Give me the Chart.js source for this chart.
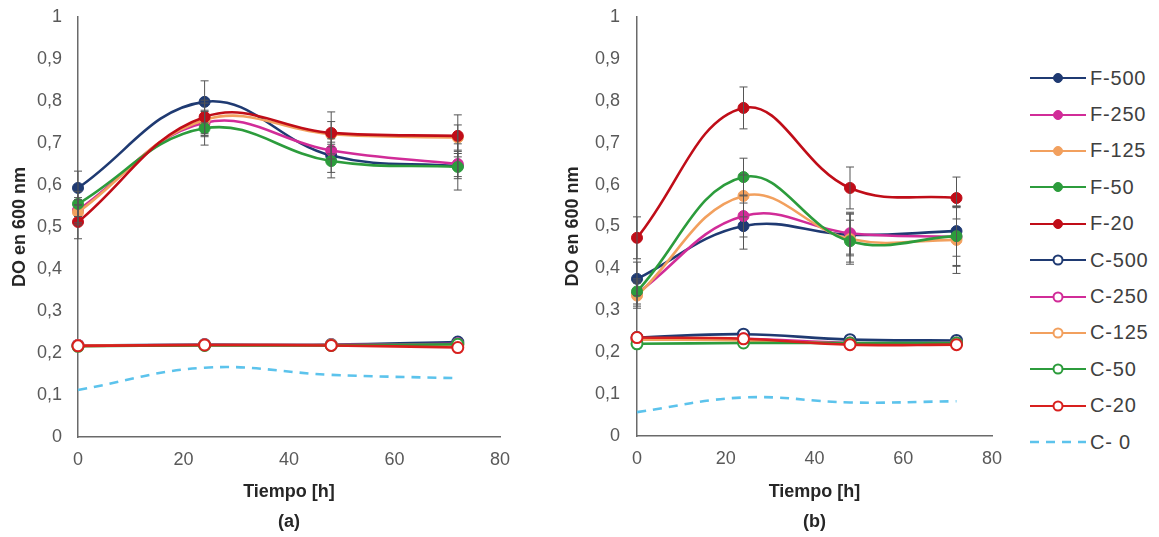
<!DOCTYPE html>
<html>
<head>
<meta charset="utf-8">
<script src="https://cdn.jsdelivr.net/npm/chart.js@4/dist/chart.umd.min.js"></script>
<style>
  html,body{margin:0;padding:0;background:#fff;}
  body{width:1159px;height:537px;position:relative;overflow:hidden;font-family:"Liberation Sans",Arial,sans-serif;}
  .box{position:absolute;top:0;height:537px;}
  #boxA{left:0;width:520px;}
  #boxB{left:540px;width:475px;}
  #legend{position:absolute;left:1030px;top:60px;}
  .lg{height:36.4px;display:flex;align-items:center;}
  .lg svg{width:56px;height:16px;margin-right:4px;}
  .lg span{font-size:20px;color:#404040;letter-spacing:0.8px;}
</style>
</head>
<body>
<div class="box" id="boxA"><canvas id="chartA"></canvas></div>
<div class="box" id="boxB"><canvas id="chartB"></canvas></div>
<div id="legend"></div>
<script>
// tiempos de muestreo (h)
const TIEMPOS = [0, 24, 48, 72];
const SERIES = ['F-500','F-250','F-125','F-50','F-20','C-500','C-250','C-125','C-50','C-20','C- 0'];
const COLORES = ['#1f3a72','#d12c98','#f2a05e','#2c9c3c','#c00d18','#1f3a72','#d12c98','#f2a05e','#2c9c3c','#d8201e','#5cc3ec'];
const Y_TICKS = [0,0.1,0.2,0.3,0.4,0.5,0.6,0.7,0.8,0.9,1];
const X_TICKS = [0,20,40,60,80];

// (a) DO a 600 nm
const A_F500 = [0.593, 0.798, 0.670, 0.645];
const A_F250 = [0.540, 0.748, 0.682, 0.650];
const A_F125 = [0.535, 0.755, 0.721, 0.713];
const A_F50  = [0.555, 0.735, 0.657, 0.643];
const A_F20  = [0.512, 0.762, 0.724, 0.717];
const A_C500 = [0.218, 0.220, 0.220, 0.226];
const A_C250 = [0.218, 0.219, 0.219, 0.222];
const A_C125 = [0.217, 0.219, 0.219, 0.218];
const A_C50  = [0.216, 0.218, 0.218, 0.221];
const A_C20  = [0.217, 0.219, 0.218, 0.213];
const A_C0   = [0.112, 0.165, 0.148, 0.140];
// desvío estándar (a)
const A_E500 = [0.04, 0.05, 0.04, 0.03];
const A_E250 = [0.03, 0.03, 0.02, 0.03];
const A_E125 = [0.03, 0.04, 0.03, 0.03];
const A_E50  = [0.03, 0.04, 0.04, 0.055];
const A_E20  = [0.04, 0.04, 0.05, 0.05];

// (b) DO a 600 nm
const B_F500 = [0.375, 0.501, 0.480, 0.489];
const B_F250 = [0.340, 0.525, 0.484, 0.475];
const B_F125 = [0.335, 0.573, 0.470, 0.468];
const B_F50  = [0.345, 0.618, 0.465, 0.477];
const B_F20  = [0.473, 0.783, 0.592, 0.568];
const B_C500 = [0.235, 0.243, 0.230, 0.228];
const B_C250 = [0.232, 0.232, 0.222, 0.222];
const B_C125 = [0.230, 0.228, 0.220, 0.220];
const B_C50  = [0.220, 0.222, 0.222, 0.222];
const B_C20  = [0.235, 0.232, 0.218, 0.218];
const B_C0   = [0.057, 0.092, 0.080, 0.083];
// desvío estándar (b)
const B_E500 = [0.04, 0.055, 0.05, 0.06];
const B_E250 = [0.03, 0.05, 0.05, 0.07];
const B_E125 = [0.03, 0.05, 0.06, 0.08];
const B_E50  = [0.03, 0.045, 0.05, 0.07];
const B_E20  = [0.05, 0.05, 0.05, 0.05];

const FONT = '"Liberation Sans", Arial, sans-serif';
const fmtY = v => v===0 ? '0' : v===1 ? '1' : v.toFixed(1).replace('.', ',');

function mkDS(i, vals, errs){
  const isF = i < 5, isC0 = i === 10;
  return {
    label: SERIES[i],
    data: vals.map((v,k)=>({x:TIEMPOS[k], y:v})),
    errores: errs || null,
    borderColor: COLORES[i],
    backgroundColor: COLORES[i],
    borderWidth: 2.6,
    borderDash: isC0 ? [9,7] : [],
    pointRadius: isC0 ? 0 : 5.5,
    pointBorderWidth: isF ? 1 : 2,
    pointBackgroundColor: isF ? COLORES[i] : '#ffffff',
    pointBorderColor: COLORES[i],
    tension: 0.4,
    clip: false,
    order: SERIES.length - i   // las últimas series quedan encima
  };
}

// barras de error dibujadas con las escalas del gráfico
const errorBars = {
  id: 'errorBars',
  afterDatasetsDraw(chart){
    const {ctx, scales:{x, y}} = chart;
    ctx.save();
    ctx.strokeStyle = '#555555';
    ctx.lineWidth = 1;
    chart.data.datasets.forEach(ds=>{
      if(!ds.errores) return;
      ds.data.forEach((p,k)=>{
        const e = ds.errores[k];
        const px = x.getPixelForValue(p.x);
        const top = y.getPixelForValue(p.y + e), bot = y.getPixelForValue(p.y - e);
        ctx.beginPath();
        ctx.moveTo(px, top); ctx.lineTo(px, bot);
        ctx.moveTo(px-4, top); ctx.lineTo(px+4, top);
        ctx.moveTo(px-4, bot); ctx.lineTo(px+4, bot);
        ctx.stroke();
      });
    });
    ctx.restore();
  }
};

function opciones(etiqueta, yAxisW, xAxisH, padRight, yTitlePad){
  return {
    responsive: true,
    maintainAspectRatio: false,
    animation: false,
    layout: {padding: {top: 17, right: padRight, left: 0, bottom: 0}},
    plugins: {legend: {display: false}, tooltip: {enabled: false}},
    scales: {
      x: {
        type: 'linear', min: 0, max: 80,
        afterBuildTicks: s => { s.ticks = X_TICKS.map(v=>({value:v})); },
        afterFit: s => { s.height = xAxisH; s.paddingLeft = 0; s.paddingRight = 0; },
        grid: {display: false, drawTicks: false},
        border: {display: true, color: '#6a6a6a', width: 1.5},
        ticks: {padding: 12, color: '#595959', font: {family: FONT, size: 18}},
        title: {display: true, text: ['Tiempo [h]', etiqueta], color: '#262626',
                font: {family: FONT, size: 18, weight: 'bold', lineHeight: 1.667}, padding: {top: 0, bottom: 0}}
      },
      y: {
        min: 0, max: 1,
        afterBuildTicks: s => { s.ticks = Y_TICKS.map(v=>({value:v})); },
        afterFit: s => { s.width = yAxisW; s.paddingTop = 0; s.paddingBottom = 0; },
        grid: {display: false, drawTicks: false},
        border: {display: true, color: '#6a6a6a', width: 1.5},
        ticks: {padding: yAxisW === 78 ? 16 : 17, color: '#595959', font: {family: FONT, size: 18}, callback: v => fmtY(v)},
        title: {display: true, text: 'DO en 600 nm', color: '#262626',
                font: {family: FONT, size: 18, weight: 'bold', lineHeight: 1.2}, padding: {top: yTitlePad, bottom: 0}}
      }
    }
  };
}

new Chart(document.getElementById('chartA'), {
  type: 'line',
  data: {datasets: [
    mkDS(0, A_F500, A_E500), mkDS(1, A_F250, A_E250), mkDS(2, A_F125, A_E125), mkDS(3, A_F50, A_E50), mkDS(4, A_F20, A_E20),
    mkDS(5, A_C500), mkDS(6, A_C250), mkDS(7, A_C125), mkDS(8, A_C50), mkDS(9, A_C20), mkDS(10, A_C0)
  ]},
  options: opciones('(a)', 78, 100, 20, 9),
  plugins: [errorBars]
});

new Chart(document.getElementById('chartB'), {
  type: 'line',
  data: {datasets: [
    mkDS(0, B_F500, B_E500), mkDS(1, B_F250, B_E250), mkDS(2, B_F125, B_E125), mkDS(3, B_F50, B_E50), mkDS(4, B_F20, B_E20),
    mkDS(5, B_C500), mkDS(6, B_C250), mkDS(7, B_C125), mkDS(8, B_C50), mkDS(9, B_C20), mkDS(10, B_C0)
  ]},
  options: opciones('(b)', 97, 101, 23, 22),
  plugins: [errorBars]
});

// leyenda común a la derecha
document.getElementById('legend').innerHTML = SERIES.map((s,i)=>{
  const c = COLORES[i];
  let icon;
  if(i === 10){
    icon = `<line x1="0" y1="8" x2="56" y2="8" stroke="${c}" stroke-width="2.5" stroke-dasharray="9,7"/>`;
  } else {
    const fill = i < 5 ? c : '#ffffff';
    icon = `<line x1="0" y1="8" x2="56" y2="8" stroke="${c}" stroke-width="2"/><circle cx="28" cy="8" r="4.5" fill="${fill}" stroke="${c}" stroke-width="${i<5?1:2}"/>`;
  }
  return `<div class="lg"><svg viewBox="0 0 56 16">${icon}</svg><span>${s}</span></div>`;
}).join('');
</script>
</body>
</html>
